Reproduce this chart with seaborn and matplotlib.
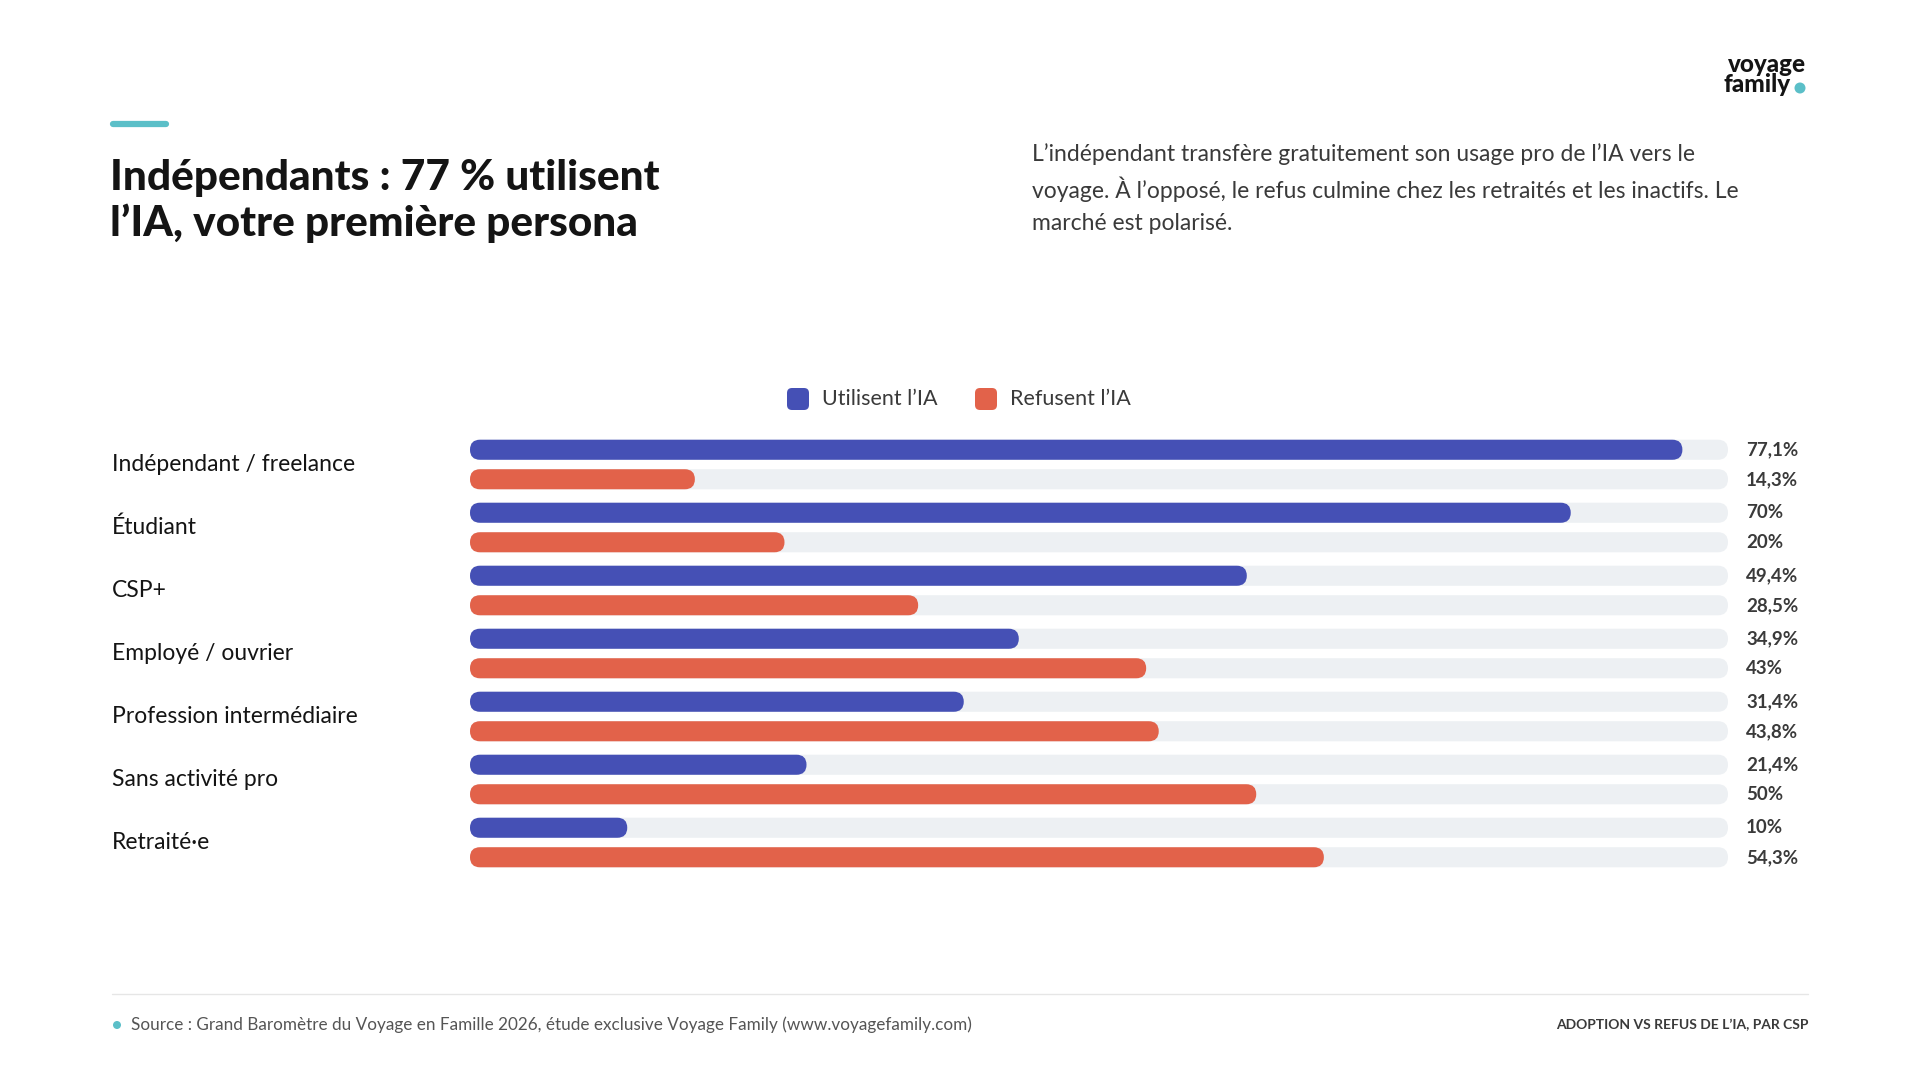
import pandas as pd
import matplotlib.pyplot as plt
import seaborn as sns
from matplotlib.patches import FancyBboxPatch, Ellipse
from matplotlib.lines import Line2D
from matplotlib import transforms

# Données
categories = ["Indépendant / freelance", "Étudiant", "CSP+", "Employé / ouvrier",
              "Profession intermédiaire", "Sans activité pro", "Retraité·e"]
utilisent = [77.1, 70, 49.4, 34.9, 31.4, 21.4, 10]
refusent = [14.3, 20, 28.5, 43, 43.8, 50, 54.3]
series = ["Utilisent l’IA", "Refusent l’IA"]
echelle_max = 80

BLEU = "#4550B5"
ROUGE = "#E2624A"
PISTE = "#EDF0F3"
TURQUOISE = "#5BBFC8"
NOIR = "#141414"
GRIS = "#3a3a3a"

sns.set_theme(style="white")
plt.rcParams["font.family"] = ["Lato", "DejaVu Sans"]

df = pd.DataFrame({
    "csp": categories * 2,
    "serie": [series[0]] * len(categories) + [series[1]] * len(categories),
    "valeur": utilisent + refusent,
})
df_piste = df.assign(valeur=echelle_max)

W, H = 1920, 1080
fig = plt.figure(figsize=(19.2, 10.8), dpi=100)
fig.patch.set_facecolor("white")


def rond(x_px, y_px, r_px):
    # pastille ronde en coordonnées pixels (origine en haut à gauche)
    return Ellipse((x_px / W, 1 - y_px / H), 2 * r_px / W, 2 * r_px / H,
                   transform=fig.transFigure, facecolor=TURQUOISE, edgecolor="none")


# Zone des barres
ax = fig.add_axes([470 / W, 1 - 874 / H, 1258 / W, 441 / H])
sns.barplot(data=df_piste, y="csp", x="valeur", hue="serie", palette=[PISTE, PISTE],
            width=0.937, gap=0.32, saturation=1, errorbar=None, legend=False, ax=ax)
n_piste = len(ax.patches)
sns.barplot(data=df, y="csp", x="valeur", hue="serie", palette=[BLEU, ROUGE],
            width=0.937, gap=0.32, saturation=1, errorbar=None, legend=False, ax=ax)
ax.set_xlim(0, echelle_max)
ax.set_ylim(len(categories) - 0.5, -0.5)
ax.axis("off")

# Barres arrondies : on remplace chaque rectangle par une boîte à bouts ronds
p0 = ax.transData.transform((0, 0))
p1 = ax.transData.transform((1, 1))
px_x = abs(p1[0] - p0[0])
px_y = abs(p1[1] - p0[1])
aspect = px_x / px_y

rects = list(ax.patches)
centres = []
for k, rect in enumerate(rects):
    x, y = rect.get_x(), rect.get_y()
    w, h = rect.get_width(), rect.get_height()
    r = abs(h) * px_y / 2 / px_x
    box = FancyBboxPatch((x, y), w, h, boxstyle=f"round,pad=0,rounding_size={r}",
                         mutation_aspect=aspect, facecolor=rect.get_facecolor(),
                         edgecolor="none", zorder=2 if k < n_piste else 3)
    rect.remove()
    ax.add_patch(box)
    if k >= n_piste:
        centres.append(y + h / 2)

# Valeurs à droite
valeurs = utilisent + refusent
trans = transforms.blended_transform_factory(fig.transFigure, ax.transData)
for v, yc in zip(valeurs, centres):
    txt = f"{v:g}".replace(".", ",") + "%"
    ax.text(1746 / W, yc, txt, transform=trans, ha="left", va="center",
            fontsize=13.5, fontweight="bold", color=GRIS)

# Libellés des catégories
for i, cat in enumerate(categories):
    ax.text(112 / W, i, cat, transform=trans, ha="left", va="center",
            fontsize=16.5, color=NOIR)

# Trait d'accent et titre
fig.add_artist(Line2D([113 / W, 166 / W], [1 - 124 / H, 1 - 124 / H], transform=fig.transFigure,
                      color=TURQUOISE, linewidth=4.5, solid_capstyle="round"))
fig.text(110 / W, 1 - 190 / H, "Indépendants : 77 % utilisent", fontsize=30.5,
         fontweight="black", color=NOIR, ha="left", va="baseline")
fig.text(110 / W, 1 - 236 / H, "l’IA, votre première persona", fontsize=30.5,
         fontweight="black", color=NOIR, ha="left", va="baseline")

# Texte d'introduction
lignes = ["L’indépendant transfère gratuitement son usage pro de l’IA vers le",
          "voyage. À l’opposé, le refus culmine chez les retraités et les inactifs. Le",
          "marché est polarisé."]
for j, ligne in enumerate(lignes):
    fig.text(1032 / W, 1 - (154 + 35 * j) / H, ligne, fontsize=16.5, color=GRIS,
             ha="left", va="center")

# Logo
fig.text(1806 / W, 1 - 64 / H, "voyage", fontsize=17.5, fontweight="black", color=NOIR,
         ha="right", va="center")
fig.text(1791 / W, 1 - 85 / H, "family", fontsize=17.5, fontweight="black", color=NOIR,
         ha="right", va="center")
fig.add_artist(rond(1800, 88, 5.5))

# Légende
for couleur, label, x_carre in [(BLEU, series[0], 787), (ROUGE, series[1], 975)]:
    fig.add_artist(FancyBboxPatch((x_carre / W, (H - 399 - 11) / H), 22 / W, 22 / H,
                                  boxstyle=f"round,pad=0,rounding_size={5 / W}",
                                  mutation_aspect=W / H, transform=fig.transFigure,
                                  facecolor=couleur, edgecolor="none"))
    fig.text((x_carre + 35) / W, 1 - 399 / H, label, fontsize=15.5, color=GRIS,
             ha="left", va="center")

# Pied de page
fig.add_artist(Line2D([112 / W, 1808 / W], [1 - 994 / H, 1 - 994 / H], transform=fig.transFigure,
                      color="#E6E6E6", linewidth=1))
fig.add_artist(rond(117, 1025, 4))
fig.text(131 / W, 1 - 1025 / H,
         "Source : Grand Baromètre du Voyage en Famille 2026, étude exclusive Voyage Family (www.voyagefamily.com)",
         fontsize=12.3, color="#555555", ha="left", va="center")
fig.text(1808 / W, 1 - 1025 / H, "ADOPTION VS REFUS DE L’IA, PAR CSP", fontsize=10,
         fontweight="bold", color=GRIS, ha="right", va="center")

fig.savefig("out.png", dpi=100, facecolor="white")
